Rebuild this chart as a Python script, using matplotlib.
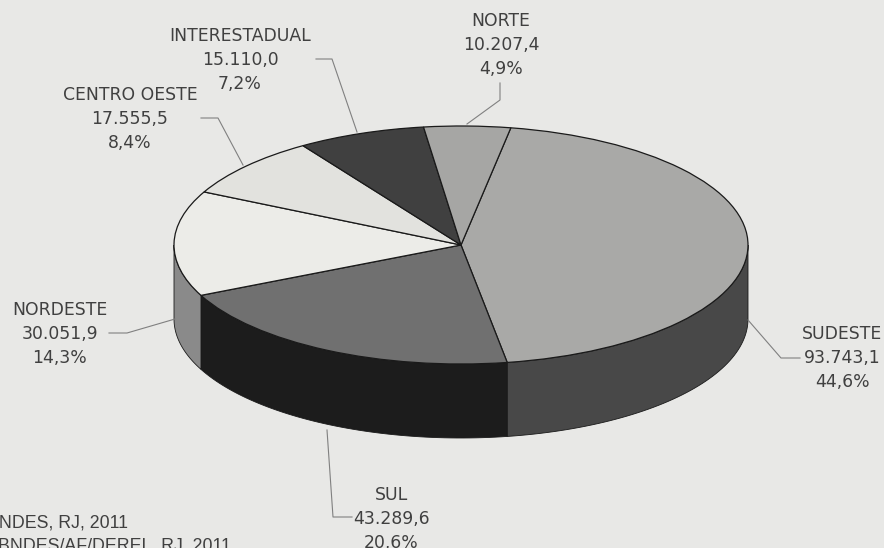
import matplotlib
matplotlib.use("Agg")
import matplotlib.pyplot as plt
import numpy as np

regions = ["SUDESTE", "SUL", "NORDESTE", "CENTRO OESTE", "INTERESTADUAL", "NORTE"]
values = [93743.1, 43289.6, 30051.9, 17555.5, 15110.0, 10207.4]
shares = [44.6, 20.6, 14.3, 8.4, 7.2, 4.9]
top_colors = ["#a9a9a7", "#707070", "#ecece8", "#e2e2de", "#404040", "#a6a6a4"]
side_colors = ["#484848", "#1c1c1c", "#8a8a8a", "#8a8a8a", "#8a8a8a", "#8a8a8a"]
source_lines = ["BNDES, RJ, 2011", "BNDES/AF/DEREL, RJ, 2011"]

W, H = 884, 548
cx, cy, rx, ry, depth = 461, 245, 287, 119, 74
start = 80
bg = "#e8e8e6"
txt = "#404040"
line_c = "#808080"


def fmt(v):
    return f"{v:,.1f}".replace(",", "X").replace(".", ",").replace("X", ".")


fig = plt.figure(figsize=(W / 100, H / 100), dpi=100, facecolor=bg)

# unit circle pie, the axes limits squash it into the ellipse
ax = fig.add_axes([0, 0, 1, 1])
ax.pie(values, startangle=start, counterclock=False, colors=top_colors,
       wedgeprops={"edgecolor": "#1a1a1a", "linewidth": 0.9, "zorder": 3})
ax.set_aspect("auto")
ax.set_xlim(-cx / rx, (W - cx) / rx)
ax.set_ylim((cy - H) / ry, cy / ry)
ax.axis("off")

# side wall, front half only
d = depth / ry
edges = start - np.cumsum([0] + values) / sum(values) * 360
for i in range(len(values)):
    a1 = max(edges[i + 1], -180)
    a0 = min(edges[i], 0)
    if a1 >= a0:
        continue
    t = np.radians(np.linspace(a0, a1, 60))
    xs = np.concatenate([np.cos(t), np.cos(t[::-1])])
    ys = np.concatenate([np.sin(t), np.sin(t[::-1]) - d])
    ax.fill(xs, ys, facecolor=side_colors[i], edgecolor="#1a1a1a", linewidth=0.6, zorder=2)

# labels and leader lines in pixel coordinates
ov = fig.add_axes([0, 0, 1, 1])
ov.set_xlim(0, W)
ov.set_ylim(H, 0)
ov.axis("off")
ov.patch.set_alpha(0)

label_pos = [(842, 358), (391, 519), (60, 334), (130, 119), (240, 60), (501, 45)]
leaders = [
    [(748, 320), (781, 358), (800, 358)],
    [(327, 430), (333, 517), (352, 517)],
    [(175, 319), (127, 333), (109, 333)],
    [(243, 165), (218, 118), (201, 118)],
    [(357, 132), (332, 59), (316, 59)],
    [(467, 124), (500, 100), (500, 83)],
]
for name, v, s, (x, y), pts in zip(regions, values, shares, label_pos, leaders):
    ov.text(x, y, f"{name}\n{fmt(v)}\n{str(s).replace('.', ',')}%", ha="center", va="center",
            fontsize=12.4, color=txt, family="DejaVu Sans", linespacing=1.4)
    px, py = zip(*pts)
    ov.plot(px, py, color=line_c, linewidth=0.8)

ov.text(-13, 523, source_lines[0], ha="left", va="center", fontsize=12.8, color=txt,
        family="Liberation Sans", clip_on=True)
ov.text(-2, 546, source_lines[1], ha="left", va="center", fontsize=12.8, color=txt,
        family="Liberation Sans", clip_on=True)

plt.savefig("out.png", dpi=100, facecolor=bg)
